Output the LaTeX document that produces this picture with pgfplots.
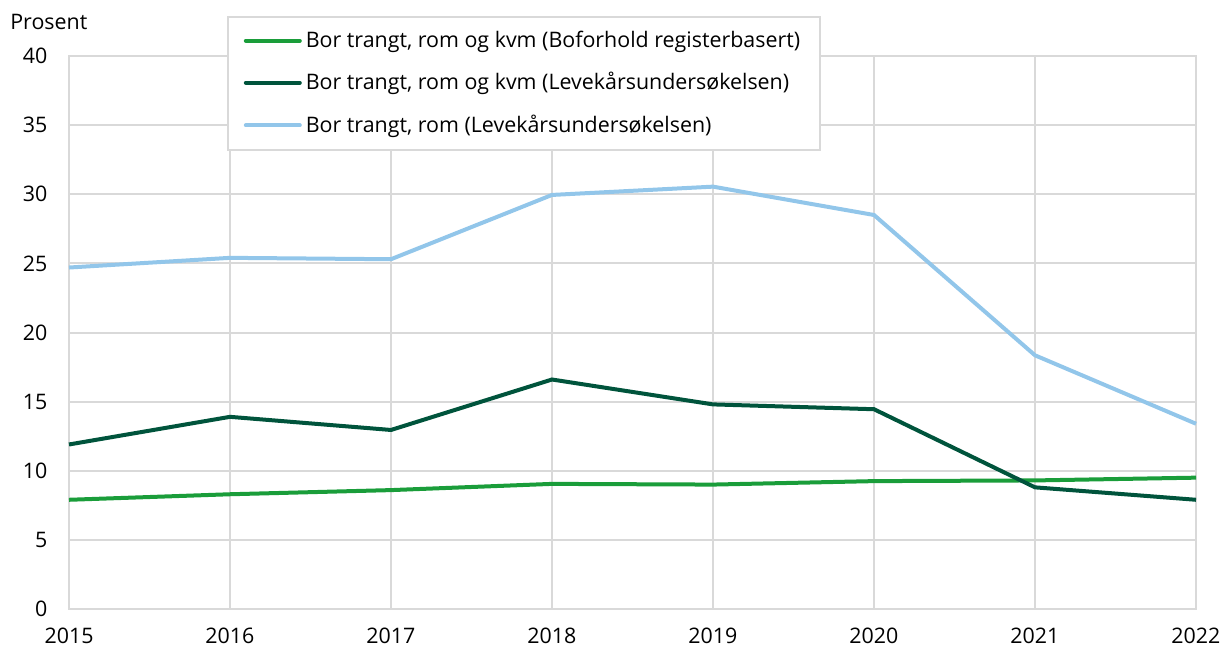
\documentclass[border=0pt]{standalone}
\usepackage{fontspec}
\setmainfont{Open Sans}
\usepackage{pgfplots}
\pgfplotsset{compat=1.18}
\definecolor{cgreen}{HTML}{1A9D3A}
\definecolor{cdark}{HTML}{00543C}
\definecolor{clight}{HTML}{92C6EA}
\definecolor{cgrid}{HTML}{D9D9D9}
\begin{document}
\fontsize{10.7pt}{12.8pt}\selectfont
\begin{tikzpicture}
\path[use as bounding box] (0,0) rectangle (612pt,324pt);
\begin{axis}[
  at={(34.5pt,19.5pt)}, anchor=south west,
  scale only axis, width=563.5pt, height=276.5pt,
  xmin=2015, xmax=2022, ymin=0, ymax=40,
  xtick={2015,...,2022}, ytick={0,5,...,40},
  grid=major, major grid style={cgrid, line width=1pt},
  axis line style={cgrid, line width=1pt},
  major tick length=0pt,
  /pgf/number format/assume math mode=true,
  /pgf/number format/1000 sep={},
  tick label style={font=\fontsize{10.7pt}{12.8pt}\selectfont, text=black},
  yticklabel style={xshift=-7pt},
  xticklabel style={yshift=-5.5pt},
  legend style={at={(0.1402,1.0723)}, anchor=north west, draw=cgrid, line width=0.8pt, fill=white,
    font=\fontsize{10.7pt}{12.8pt}\selectfont, row sep=7pt, inner xsep=8pt, inner ysep=5pt},
  legend cell align=left,
  legend image code/.code={\draw[#1, line width=2pt, line cap=round] (0pt,0pt) -- (27pt,0pt);},
  clip=false,
]
\addplot[cgreen, line width=2pt] coordinates {(2015,7.9) (2016,8.3) (2017,8.6) (2018,9.05) (2019,9.0) (2020,9.25) (2021,9.3) (2022,9.5)};
\addlegendentry{Bor trangt, rom og kvm (Boforhold registerbasert)}
\addplot[cdark, line width=2pt] coordinates {(2015,11.9) (2016,13.9) (2017,12.95) (2018,16.6) (2019,14.8) (2020,14.45) (2021,8.8) (2022,7.9)};
\addlegendentry{Bor trangt, rom og kvm (Levekårsundersøkelsen)}
\addplot[clight, line width=2pt] coordinates {(2015,24.7) (2016,25.4) (2017,25.3) (2018,29.95) (2019,30.55) (2020,28.5) (2021,18.35) (2022,13.4)};
\addlegendentry{Bor trangt, rom (Levekårsundersøkelsen)}
\node[anchor=west, inner sep=0pt] at (rel axis cs:-0.0524,1.0615) {Prosent};
\end{axis}
\end{tikzpicture}
\end{document}
